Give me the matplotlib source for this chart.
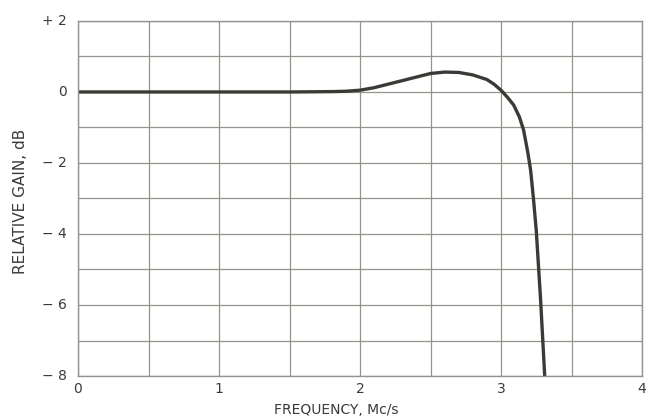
import numpy as np
import matplotlib.pyplot as plt

# values
freq = [0.0, 0.5, 1.0, 1.5, 1.8, 1.9, 2.0, 2.1, 2.2, 2.3, 2.4, 2.5, 2.6, 2.7,
        2.8, 2.9, 2.95, 3.0, 3.05, 3.09, 3.13, 3.16, 3.19, 3.21, 3.23, 3.25, 3.28, 3.31]
gain = [0.0, 0.0, 0.0, 0.0, 0.01, 0.02, 0.05, 0.12, 0.22, 0.32, 0.42, 0.52, 0.56, 0.55,
        0.48, 0.35, 0.22, 0.05, -0.17, -0.37, -0.7, -1.07, -1.7, -2.2, -3.0, -3.9, -5.8, -8.0]

xticks = [0, 1, 2, 3, 4]
xticklabels = ["0", "1", "2", "3", "4"]
yticks = [2, 0, -2, -4, -6, -8]
yticklabels = ["+ 2", "0", "\u2212 2", "\u2212 4", "\u2212 6", "\u2212 8"]

grid_col = "#94948c"
ink = "#3a3a36"

fig = plt.figure(figsize=(6.5, 4.19), dpi=100)
ax = fig.add_axes([0.12, 0.1026, 0.8677, 0.8474])

ax.set_xlim(0, 4)
ax.set_ylim(-8, 2)

ax.set_xticks(np.arange(0, 4.01, 0.5))
ax.set_yticks(np.arange(-8, 2.01, 1.0))
ax.grid(True, color=grid_col, lw=0.9)
ax.tick_params(length=0, labelleft=False, labelbottom=False)
for s in ax.spines.values():
    s.set_color(grid_col)
    s.set_linewidth(1.0)

ax.plot(freq, gain, color=ink, lw=2.4, solid_capstyle="butt")

for xv, lab in zip(xticks, xticklabels):
    ax.text(xv, -8.37, lab, ha="center", va="center", fontsize=10, color=ink)
for yv, lab in zip(yticks, yticklabels):
    ax.text(-0.08, yv, lab, ha="right", va="center", fontsize=10, color=ink)

fig.text(0.518, 0.0215, "FREQUENCY, Mc/s", ha="center", va="center",
         fontsize=10, color=ink)
fig.text(0.031, 0.52, "RELATIVE GAIN, dB", ha="center", va="center",
         rotation=90, fontsize=11, color=ink)

fig.savefig("out.png", dpi=100)
